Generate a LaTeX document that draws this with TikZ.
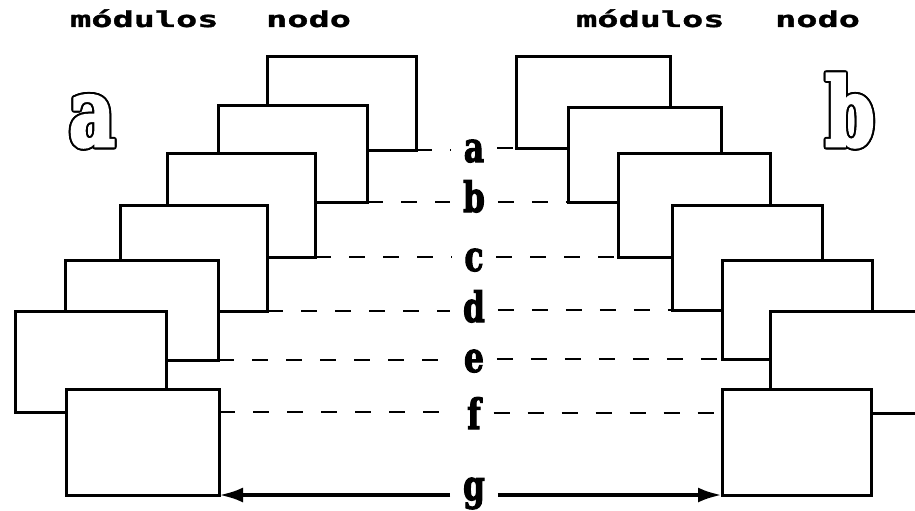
\documentclass[tikz,border=0pt]{standalone}
\usepackage{fontspec}
\usepackage[copies]{contour}
\usetikzlibrary{fit, arrows.meta}

\newfontfamily\letrafont{DejaVu Serif}[FakeStretch=0.74, FakeBold=2.5]
\newfontfamily\grandefont{DejaVu Serif}[FakeStretch=0.74, FakeBold=3]
\newfontfamily\titulofont{DejaVu Sans Mono}[FakeStretch=1.6, FakeBold=1.5]
\contourlength{2pt}

\tikzset{
  modulo/.style={draw, line width=3pt, fill=white, inner sep=0pt, outer sep=0pt},
  letra/.style={font=\letrafont\bfseries\fontsize{42}{42}\selectfont, anchor=base, inner sep=0pt, outer sep=13pt},
  grande/.style={font=\grandefont\bfseries\fontsize{95}{95}\selectfont, anchor=base, inner sep=0pt, text=white},
  titulo/.style={font=\titulofont\bfseries\fontsize{22}{22}\selectfont, anchor=base west, inner sep=0pt},
  enlace/.style={line width=2pt, dash pattern=on 16pt off 18pt},
  flecha/.style={line width=4pt, -{Latex[length=24pt,width=15pt]}}
}

\begin{document}
\begin{tikzpicture}[x=1pt, y=-1pt]

\clip (0,0) rectangle (915,511);
\fill[white] (0,0) rectangle (915,511);

% headers
\node[titulo] (mod1) at (70,27) {módulos};
\node[titulo] (nod1) at (266,27) {nodo};
\node[titulo] (mod2) at (576,27) {módulos};
\node[titulo] (nod2) at (775,27) {nodo};

\node[grande] (ga) at (92,146) {\contour{black}{a}};
\node[grande] (gb) at (850,146) {\contour{black}{b}};

% stack a, back to front
\foreach \n/\xa/\ya/\xb/\yb in {1/267/57/416/150, 2/218/105/367/202, 3/167/153/315/257,
  4/120/205/267/311, 5/65/260/218/360, 6/15/311/166/412, 7/66/389/219/495}
  \node[modulo, fit={(\xa,\ya) (\xb,\yb)}] (l\n) {};

% stack b, back to front
\foreach \n/\xa/\ya/\xb/\yb in {1/516/57/670/148, 2/568/107/721/202, 3/618/153/770/257,
  4/672/205/822/310, 5/722/260/872/359, 6/770/311/925/413, 7/722/389/871/495}
  \node[modulo, fit={(\xa,\ya) (\xb,\yb)}] (r\n) {};

% middle letters
\foreach \l/\y in {a/162, b/212, c/271, d/322, e/372, f/429, g/500}
  \node[letra] (et\l) at (474,\y) {\l};

\foreach \n/\l in {1/a, 2/b, 3/c, 4/d, 5/e} {
  \draw[enlace] (l\n.south east) -- (l\n.south east -| et\l.west);
  \draw[enlace] (et\l.east |- r\n.south west) -- (r\n.south west);
}
\draw[enlace] (l6.south -| l7.east) -- (l6.south -| etf.west);
\draw[enlace] (etf.east |- r6.south) -- (r6.south -| r7.west);

\draw[flecha] (etg.west |- l7.south east) -- (l7.south east);
\draw[flecha] (etg.east |- r7.south west) -- (r7.south west);

\end{tikzpicture}
\end{document}
